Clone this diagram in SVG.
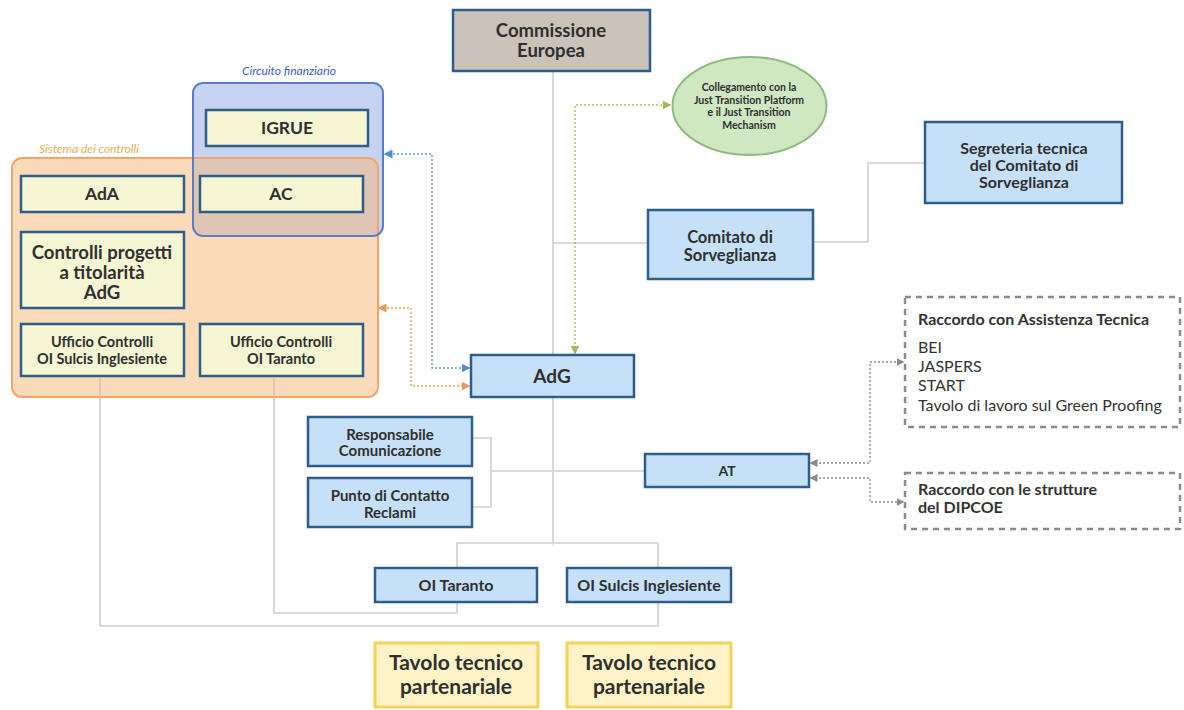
<svg xmlns="http://www.w3.org/2000/svg" width="1184" height="710" viewBox="0 0 1184 710">
<style>
.t{font-family:Lato,"Open Sans","DejaVu Sans",sans-serif;font-weight:bold;fill:#2f2f2f;text-anchor:middle}
.bx{fill:#c6e1f7;stroke:#2e5d8a;stroke-width:2.5}
.yb{fill:#f4f5d2;stroke:#2e5d8a;stroke-width:2.5}
.tv{fill:#fdf3c6;stroke:#f2d35a;stroke-width:3}
.ln{fill:none;stroke:#cfcfcf;stroke-width:1.6}
.dash{fill:#ffffff;stroke:#8a8a8a;stroke-width:2.5;stroke-dasharray:6 5}
.lt{font-family:Lato,"Open Sans","DejaVu Sans",sans-serif;fill:#333;font-size:16px}
</style>
<defs>
<marker id="ag" viewBox="0 0 6 6" refX="5" refY="3" markerWidth="6" markerHeight="6" orient="auto-start-reverse"><path d="M0,0 L6,3 L0,6 z" fill="#aab55a"/></marker>
<marker id="ab" viewBox="0 0 6 6" refX="5" refY="3" markerWidth="6" markerHeight="6" orient="auto-start-reverse"><path d="M0,0 L6,3 L0,6 z" fill="#4f8fcf"/></marker>
<marker id="ao" viewBox="0 0 6 6" refX="5" refY="3" markerWidth="6" markerHeight="6" orient="auto-start-reverse"><path d="M0,0 L6,3 L0,6 z" fill="#e59a5e"/></marker>
<marker id="ak" viewBox="0 0 6 6" refX="5" refY="3" markerWidth="6" markerHeight="6" orient="auto-start-reverse"><path d="M0,0 L6,3 L0,6 z" fill="#8a8a8a"/></marker>
</defs>
<rect width="1184" height="710" fill="#ffffff"/>

<g id="connectors">
<path class="ln" d="M553,71 V545"/>
<path class="ln" d="M553,243 H648"/>
<path class="ln" d="M813,242 H868 V163 H925"/>
<path class="ln" d="M472,438 H491 V507 H472 M491,471 H645"/>
<path class="ln" d="M457,568 V543 H658 V568"/>
<path class="ln" d="M457,602 V613 H274 V377"/>
<path class="ln" d="M658,602 V626 H100 V377"/>
<path d="M670,105 H575 V353" fill="none" stroke="#b3bf6a" stroke-width="1.5" stroke-dasharray="2 2" marker-start="url(#ag)" marker-end="url(#ag)"/>
<path d="M385,154 H432 V368 H469" fill="none" stroke="#5b9bd5" stroke-width="1.5" stroke-dasharray="2 2" marker-start="url(#ab)" marker-end="url(#ab)"/>
<path d="M379,308 H411 V386 H469" fill="none" stroke="#eda36a" stroke-width="1.5" stroke-dasharray="2 2" marker-start="url(#ao)" marker-end="url(#ao)"/>
<path d="M811,463 H870 V362 H903" fill="none" stroke="#8a8a8a" stroke-width="1.3" stroke-dasharray="2 2" marker-start="url(#ak)" marker-end="url(#ak)"/>
<path d="M811,478 H870 V502 H903" fill="none" stroke="#8a8a8a" stroke-width="1.3" stroke-dasharray="2 2" marker-start="url(#ak)" marker-end="url(#ak)"/>
</g>

<g id="circuito-finanziario">
<rect x="193" y="83" width="190" height="153" rx="10" fill="#c7d4f1"/>
</g>
<g id="sistema-controlli">
<rect x="12" y="158" width="366" height="239" rx="10" fill="#f8b676" fill-opacity="0.5" stroke="#f3a56b" stroke-width="2"/>
<text x="89" y="153" font-family="Lato,sans-serif" font-style="italic" font-size="12" fill="#e6ad55" text-anchor="middle">Sistema dei controlli</text>
</g>
<g id="circuito-outline">
<rect x="193" y="83" width="190" height="153" rx="10" fill="none" stroke="#5a7ec8" stroke-width="2"/>
<text x="289" y="75" font-family="Lato,sans-serif" font-style="italic" font-size="12" fill="#3b5cc0" text-anchor="middle">Circuito finanziario</text>
</g>

<g id="commissione">
<rect x="453" y="10" width="197" height="61" fill="#cbc2b9" stroke="#2e5d8a" stroke-width="2.5"/>
<text class="t" x="551" y="37" font-size="18.5">Commissione</text>
<text class="t" x="551" y="57" font-size="18.5">Europea</text>
</g>

<g id="igrue">
<rect class="yb" x="206" y="110" width="162" height="36"/>
<text class="t" x="287" y="134" font-size="17.5">IGRUE</text>
</g>
<g id="ada">
<rect class="yb" x="21" y="176" width="163" height="36"/>
<text class="t" x="102" y="200" font-size="17.5">AdA</text>
</g>
<g id="ac">
<rect class="yb" x="200" y="176" width="163" height="36"/>
<text class="t" x="281" y="200" font-size="17.5">AC</text>
</g>
<g id="controlli-progetti">
<rect class="yb" x="21" y="232" width="163" height="76"/>
<text class="t" x="102" y="259" font-size="18.5">Controlli progetti</text>
<text class="t" x="102" y="279" font-size="18.5">a titolarità</text>
<text class="t" x="102" y="299" font-size="18.5">AdG</text>
</g>
<g id="ufficio-sulcis">
<rect class="yb" x="21" y="324" width="163" height="52"/>
<text class="t" x="102" y="347" font-size="14.5">Ufficio Controlli</text>
<text class="t" x="102" y="364" font-size="14.5">OI Sulcis Inglesiente</text>
</g>
<g id="ufficio-taranto">
<rect class="yb" x="200" y="324" width="163" height="52"/>
<text class="t" x="281" y="347" font-size="14.5">Ufficio Controlli</text>
<text class="t" x="281" y="364" font-size="14.5">OI Taranto</text>
</g>

<g id="jtp">
<ellipse cx="749.5" cy="106" rx="77" ry="49" fill="#cfe8c2" stroke="#8dba7e" stroke-width="2"/>
<text class="t" x="749" y="91" font-size="10.5" fill="#3a4a32">Collegamento con la</text>
<text class="t" x="749" y="103.5" font-size="10.5" fill="#3a4a32">Just Transition Platform</text>
<text class="t" x="749" y="116" font-size="10.5" fill="#3a4a32">e il Just Transition</text>
<text class="t" x="749" y="128.5" font-size="10.5" fill="#3a4a32">Mechanism</text>
</g>

<g id="segreteria">
<rect class="bx" x="925" y="122" width="197" height="81"/>
<text class="t" x="1024" y="153.5" font-size="16">Segreteria tecnica</text>
<text class="t" x="1024" y="170.5" font-size="16">del Comitato di</text>
<text class="t" x="1024" y="187.5" font-size="16">Sorveglianza</text>
</g>
<g id="comitato">
<rect class="bx" x="648" y="210" width="165" height="69"/>
<text class="t" x="730" y="243" font-size="16.5">Comitato di</text>
<text class="t" x="730" y="261" font-size="16.5">Sorveglianza</text>
</g>

<g id="adg">
<rect class="bx" x="471" y="355" width="163" height="42"/>
<text class="t" x="552" y="383" font-size="19">AdG</text>
</g>
<g id="responsabile">
<rect class="bx" x="308" y="417" width="164" height="49"/>
<text class="t" x="390" y="440" font-size="15">Responsabile</text>
<text class="t" x="390" y="456" font-size="15">Comunicazione</text>
</g>
<g id="punto-contatto">
<rect class="bx" x="308" y="478" width="164" height="49"/>
<text class="t" x="390" y="501" font-size="15">Punto di Contatto</text>
<text class="t" x="390" y="518" font-size="15">Reclami</text>
</g>
<g id="at">
<rect class="bx" x="645" y="454" width="164" height="33"/>
<text class="t" x="727" y="476" font-size="14">AT</text>
</g>

<g id="raccordo-at">
<rect class="dash" x="905" y="297" width="275" height="130"/>
<text class="lt" x="918" y="325" font-weight="bold">Raccordo con Assistenza Tecnica</text>
<text class="lt" x="918" y="353">BEI</text>
<text class="lt" x="918" y="372">JASPERS</text>
<text class="lt" x="918" y="391">START</text>
<text class="lt" x="918" y="411">Tavolo di lavoro sul Green Proofing</text>
</g>
<g id="raccordo-dipcoe">
<rect class="dash" x="905" y="473" width="275" height="56"/>
<text class="lt" x="918" y="495" font-weight="bold">Raccordo con le strutture</text>
<text class="lt" x="918" y="513" font-weight="bold">del DIPCOE</text>
</g>

<g id="oi-taranto">
<rect class="bx" x="375" y="568" width="162" height="34"/>
<text class="t" x="456" y="591" font-size="16">OI Taranto</text>
</g>
<g id="oi-sulcis">
<rect class="bx" x="567" y="568" width="164" height="34"/>
<text class="t" x="649" y="591" font-size="16">OI Sulcis Inglesiente</text>
</g>

<g id="tavolo-1">
<rect class="tv" x="375" y="643" width="163" height="64"/>
<text class="t" x="456" y="670" font-size="21">Tavolo tecnico</text>
<text class="t" x="456" y="694" font-size="21">partenariale</text>
</g>
<g id="tavolo-2">
<rect class="tv" x="567" y="643" width="164" height="64"/>
<text class="t" x="649" y="670" font-size="21">Tavolo tecnico</text>
<text class="t" x="649" y="694" font-size="21">partenariale</text>
</g>
</svg>
